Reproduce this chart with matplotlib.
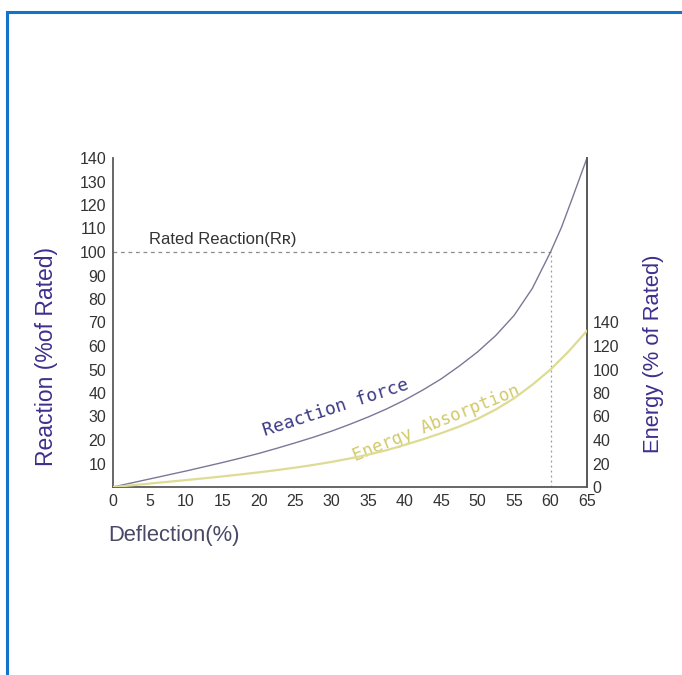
import matplotlib
matplotlib.use("Agg")
import matplotlib.pyplot as plt
from matplotlib.patches import Rectangle

# ---- data ----
deflection = [0, 2.5, 5, 7.5, 10, 12.5, 15, 17.5, 20, 22.5, 25, 27.5, 30, 32.5, 35, 37.5,
              40, 42.5, 45, 47.5, 50, 52.5, 55, 57.5, 60, 61.5, 63, 65]
reaction = [0, 1.7, 3.4, 5.1, 6.8, 8.6, 10.4, 12.3, 14.3, 16.5, 18.8, 21.2, 23.8, 26.7, 29.8, 33.2,
            37, 41.3, 46, 51.5, 57.5, 64.5, 73, 84.5, 100, 110.5, 123, 140]
energy_x = [0, 2.5, 5, 7.5, 10, 12.5, 15, 17.5, 20, 22.5, 25, 27.5, 30, 32.5, 35, 37.5,
            40, 42.5, 45, 47.5, 50, 52.5, 55, 57.5, 60, 62.5, 65]
energy = [0, 1.4, 2.9, 4.4, 5.9, 7.4, 9, 10.7, 12.5, 14.4, 16.5, 18.8, 21.4, 24.3, 27.5, 31.3,
          35.8, 40.6, 45.8, 51.5, 58, 66, 75.5, 87, 100, 115.5, 133]

x_ticks = [0, 5, 10, 15, 20, 25, 30, 35, 40, 45, 50, 55, 60, 65]
left_ticks = [10, 20, 30, 40, 50, 60, 70, 80, 90, 100, 110, 120, 130, 140]
right_ticks = [0, 20, 40, 60, 80, 100, 120, 140]
rated_reaction = 100
rated_deflection = 60

W, H = 682, 675
fig = plt.figure(figsize=(W / 100, H / 100), dpi=100)
fig.patch.set_facecolor("white")

plt.rcParams['font.family'] = ['Liberation Sans', 'DejaVu Sans']

# blue frame
fig.add_artist(Rectangle((7 / W, -0.05), 1.1, 1 - 12 / H + 0.05, transform=fig.transFigure,
                         fill=False, edgecolor="#1473c9", linewidth=2.2))

x0, x1 = 113, 587
y0, y1 = 487, 158
ax = fig.add_axes([x0 / W, 1 - y0 / H, (x1 - x0) / W, (y0 - y1) / H])
ax.set_xlim(0, 65)
ax.set_ylim(0, 140)
ax.set_facecolor("none")

ax.spines["top"].set_visible(False)
for s in ["left", "bottom", "right"]:
    ax.spines[s].set_color("#5a5a5a")
    ax.spines[s].set_linewidth(1.3)

ax.set_xticks(x_ticks)
ax.set_xticklabels([str(v) for v in x_ticks])
ax.set_yticks(left_ticks)
ax.set_yticklabels([str(v) for v in left_ticks])
ax.tick_params(axis="both", length=0, labelsize=11.5, labelcolor="#333333")
ax.tick_params(axis="y", pad=5)
ax.tick_params(axis="x", pad=5)

ax2 = ax.twinx()
ax2.set_ylim(0, 280)
ax2.set_yticks(right_ticks)
ax2.set_yticklabels([str(v) for v in right_ticks])
ax2.tick_params(axis="y", length=0, labelsize=11.5, labelcolor="#333333", pad=4)
for s in ["top", "left", "bottom"]:
    ax2.spines[s].set_visible(False)
ax2.spines["right"].set_color("#5a5a5a")
ax2.spines["right"].set_linewidth(1.3)

# curves
ax.plot(deflection, reaction, color="#7a7898", linewidth=1.0, zorder=3)
ax2.plot(energy_x, energy, color="#dedb94", linewidth=1.6, zorder=3)

# rated reaction guides
r_idx = reaction.index(rated_reaction)
ax.plot([0, deflection[r_idx]], [rated_reaction, rated_reaction], color="#8a8a8a",
        linewidth=0.9, linestyle=(0, (3, 3)))
ax.plot([rated_deflection, rated_deflection], [0, rated_reaction], color="#9a9a9a",
        linewidth=0.9, linestyle=(0, (1.5, 2.5)))
ax.text(5.0, 105.5, "Rated Reaction(R\u0280)", fontsize=12, color="#333333",
        ha="left", va="center")

# curve labels
ax.text(30.5, 33.8, "Reaction force", family="DejaVu Sans Mono", fontsize=13,
        color="#3b3a86", rotation=18, ha="center", va="center", rotation_mode="anchor")
ax.text(44.3, 27.0, "Energy Absorption", family="DejaVu Sans Mono", fontsize=12.5,
        color="#d2c96a", rotation=22, ha="center", va="center", rotation_mode="anchor")

# axis titles
fig.text(47 / W, 1 - 357 / H, "Reaction (%of Rated)", rotation=90, fontsize=16.5,
         color="#3f2f8c", ha="center", va="center")
fig.text(654 / W, 1 - 354 / H, "Energy (% of Rated)", rotation=90, fontsize=15.8,
         color="#3f2f8c", ha="center", va="center")
fig.text(108 / W, 1 - 536 / H, "Deflection(%)", fontsize=15.8, color="#4a4866",
         ha="left", va="center")

fig.savefig("out.png", dpi=100, facecolor="white")
